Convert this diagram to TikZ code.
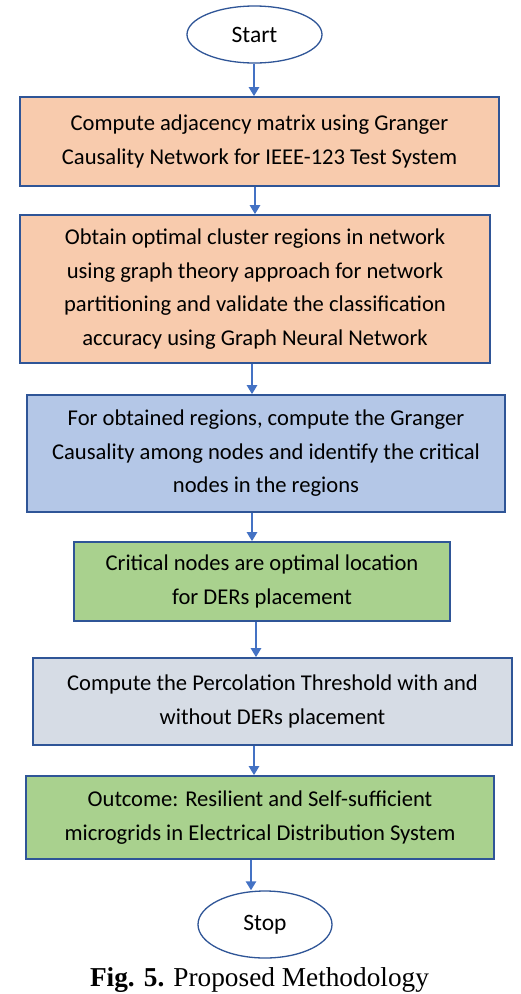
\documentclass[tikz,border=0pt]{standalone}
\usepackage{fontspec}
\setmainfont{Carlito}
\newfontfamily\capfont{Liberation Serif}
\usetikzlibrary{arrows.meta,shapes.geometric}
\definecolor{peach}{HTML}{F8CBAD}
\definecolor{lblue}{HTML}{B4C7E7}
\definecolor{lgreen}{HTML}{A9D18E}
\definecolor{lgray}{HTML}{D6DCE5}
\definecolor{bord}{HTML}{2F5597}
\definecolor{arrc}{HTML}{4472C4}
\tikzset{
  box/.style={draw=bord, line width=1.6pt, rectangle, inner sep=0pt, align=center,
    font=\fontsize{22.6}{33.5}\selectfont},
  term/.style={draw=bord, line width=1.3pt, ellipse, fill=white, inner sep=0pt,
    font=\fontsize{23.5}{26}\selectfont},
  arr/.style={draw=arrc, line width=2.6pt, -{Triangle[width=10pt,length=9pt]}},
}
\begin{document}
\begin{tikzpicture}[x=1pt,y=-1pt]
\useasboundingbox (0,0) rectangle (520,994);
\node[term, minimum width=135pt, minimum height=57pt] (start) at (254.5,34.5) {Start};
\node[box, fill=peach, minimum width=479pt, minimum height=89pt] (b1) at (259.5,141.5)
  {Compute adjacency matrix using Granger\\Causality Network for IEEE-123 Test System};
\node[box, fill=peach, minimum width=470pt, minimum height=148pt] (b2) at (255,289)
  {Obtain optimal cluster regions in network\\using graph theory approach for network\\partitioning and validate the classification\\accuracy using Graph Neural Network};
\node[box, fill=lblue, minimum width=478pt, minimum height=117pt] (b3) at (266,453.5)
  {For obtained regions, compute the Granger\\Causality among nodes and identify the critical\\nodes in the regions};
\node[box, fill=lgreen, minimum width=376pt, minimum height=79pt] (b4) at (262,581.5)
  {Critical nodes are optimal location\\for DERs placement};
\node[box, fill=lgray, minimum width=479pt, minimum height=87pt] (b5) at (272.5,701.5)
  {Compute the Percolation Threshold with and\\without DERs placement};
\node[box, fill=lgreen, minimum width=468pt, minimum height=83pt] (b6) at (260,817.5)
  {Outcome: Resilient and Self-sufficient\\microgrids in Electrical Distribution System};
\node[term, minimum width=134pt, minimum height=67pt] (stop) at (265,924.5) {Stop};
\node[font=\capfont\fontsize{27.3}{30}\selectfont, inner sep=0pt] (cap) at (259.5,980)
  {\textbf{Fig. 5.} Proposed Methodology};
\coordinate (x1) at (254,0);
\coordinate (x2) at (255,0);
\coordinate (x3) at (252,0);
\coordinate (x4) at (252,0);
\coordinate (x5) at (256,0);
\coordinate (x6) at (254,0);
\coordinate (x7) at (251,0);
\draw[arr] (start.south -| x1) -- (b1.north -| x1);
\draw[arr] (b1.south -| x2) -- (b2.north -| x2);
\draw[arr] (b2.south -| x3) -- (b3.north -| x3);
\draw[arr] (b3.south -| x4) -- (b4.north -| x4);
\draw[arr] (b4.south -| x5) -- (b5.north -| x5);
\draw[arr] (b5.south -| x6) -- (b6.north -| x6);
\draw[arr] (b6.south -| x7) -- (stop.north -| x7);
\end{tikzpicture}
\end{document}
